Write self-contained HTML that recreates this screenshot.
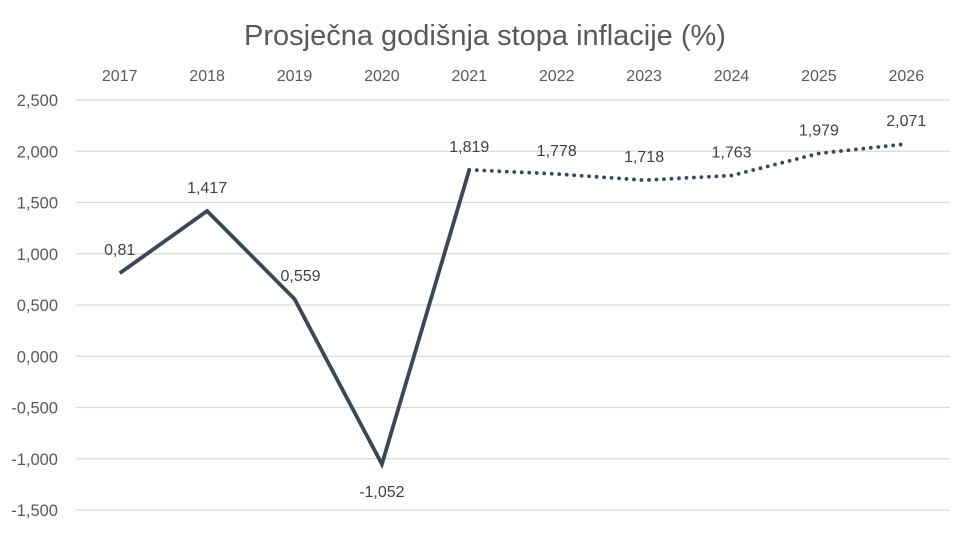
<!DOCTYPE html>
<html><head><meta charset="utf-8"><style>
body{margin:0;background:#fff;}
svg{display:block;font-family:"Liberation Sans",sans-serif;}
</style></head><body>
<svg id="chart" width="970" height="533" viewBox="0 0 970 533" xmlns="http://www.w3.org/2000/svg">
<text x="485" y="45" text-anchor="middle" font-size="29" fill="#595959">Prosječna godišnja stopa inflacije (%)</text>
<g id="grid"></g><g id="xaxis"></g><g id="yaxis"></g><g id="series"></g><g id="labels"></g>
</svg>
<script>
const categories = ["2017","2018","2019","2020","2021","2022","2023","2024","2025","2026"];
const values = [0.81,1.417,0.559,-1.052,1.819,1.778,1.718,1.763,1.979,2.071];
const valueLabels = ["0,81","1,417","0,559","-1,052","1,819","1,778","1,718","1,763","1,979","2,071"];
const yTicks = [2.5,2,1.5,1,0.5,0,-0.5,-1,-1.5];
const yTickLabels = ["2,500","2,000","1,500","1,000","0,500","0,000","-0,500","-1,000","-1,500"];
const solidEnd = 4;

const NS="http://www.w3.org/2000/svg";
const plotL=76, plotR=950, yTop=100, yBot=510;
const band=(plotR-plotL)/categories.length;
const x=i=>plotL+band*(i+0.5);
const y=v=>yTop+(2.5-v)/(4)*(yBot-yTop);
function mk(tag,attrs,parent){const e=document.createElementNS(NS,tag);for(const k in attrs)e.setAttribute(k,attrs[k]);parent.appendChild(e);return e;}
const grid=document.getElementById('grid'),ya=document.getElementById('yaxis'),xa=document.getElementById('xaxis'),ser=document.getElementById('series'),lab=document.getElementById('labels');
yTicks.forEach((t,i)=>{
  const l=mk('line',{x1:plotL,x2:plotR,y1:y(t),y2:y(t),stroke:'#d9d9d9','stroke-width':1.3},grid);
  
  
  const tx=mk('text',{x:58,y:y(t)+6,'text-anchor':'end','font-size':16.5,fill:'#595959'},ya);
  tx.textContent=yTickLabels[i];
  
  
});
categories.forEach((c,i)=>{
  const tx=mk('text',{x:x(i),y:81,'text-anchor':'middle','font-size':16,fill:'#595959'},xa);
  tx.textContent=c;
  
  
});
let d1='',d2='';
values.forEach((v,i)=>{ if(i<=solidEnd) d1+=(i?'L':'M')+x(i)+','+y(v); if(i>=solidEnd) d2+=(i>solidEnd?'L':'M')+x(i)+','+y(v); });
const p1=mk('path',{d:d1,fill:'none',stroke:'#3b4658','stroke-width':3.8,'stroke-linejoin':'miter'},ser);


const p2=mk('path',{d:d2,fill:'none',stroke:'#3b4658','stroke-width':3.8,'stroke-linecap':'round','stroke-dasharray':'0 7.5'},ser);


values.forEach((v,i)=>{
  const below=v<0;
  const tx=mk('text',{x:x(i)+(i==2?6:0),y:below?y(v)+33:y(v)-18,'text-anchor':'middle','font-size':16,fill:'#404040'},lab);
  tx.textContent=valueLabels[i];
  
  
});
</script>
</body></html>
